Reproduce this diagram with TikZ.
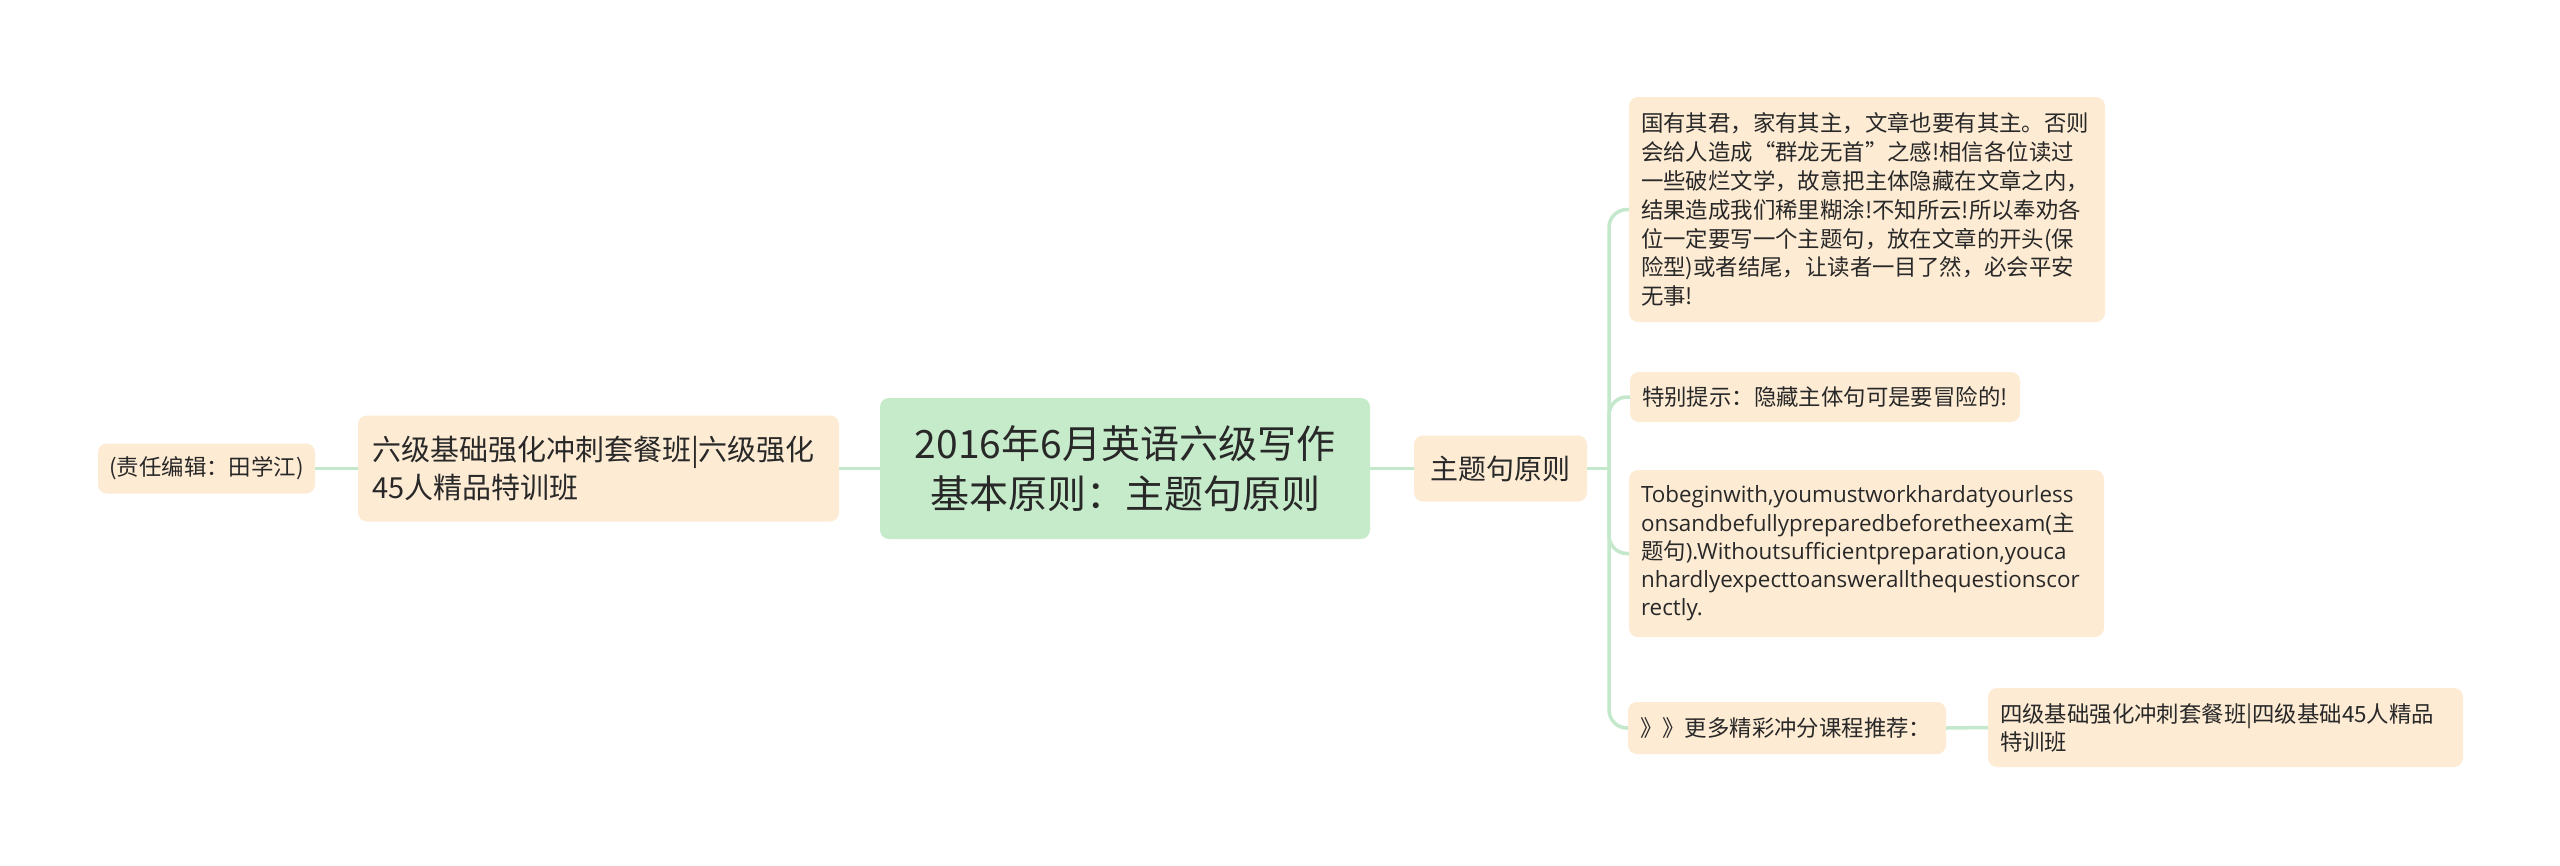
\documentclass[tikz,border=0pt]{standalone}
\usepackage{fontspec}
\setmainfont{Noto Sans CJK SC}
\newfontfamily\en{Open Sans}
\usetikzlibrary{backgrounds}
\definecolor{rootg}{RGB}{198,235,202}
\definecolor{peach}{RGB}{253,235,212}
\definecolor{lnk}{RGB}{196,232,204}
\definecolor{txt}{RGB}{40,40,40}
\begin{document}
\begin{tikzpicture}[x=1pt,y=-1pt,
  box/.style={rectangle, rounded corners=9pt, fill=peach, inner ysep=0pt, text=txt},
  small/.style={font=\fontsize{22.4}{28.9}\selectfont},
  link/.style={draw=lnk, line width=3.5pt, rounded corners=18pt}]
\useasboundingbox (0,0) rectangle (2560,865);

\node[box, fill=rootg, minimum width=490pt, minimum height=141pt, align=center,
  font=\fontsize{39}{50}\selectfont] (root) at (1125,468.5)
  {2016年6月英语六级写作\\基本原则：主题句原则};

\node[box, minimum width=173pt, minimum height=66pt, align=center,
  font=\fontsize{28}{36}\selectfont] (main) at (1500.5,468.5) {主题句原则};

\node[box, inner xsep=14pt, text width=453pt, minimum height=106pt, align=left,
  font=\fontsize{29}{38}\selectfont] (left) at (598.5,468.5)
  {六级基础强化冲刺套餐班|六级强化\\45人精品特训班};

\node[box, minimum width=217pt, minimum height=50pt, align=center, small] (editor) at (206.5,468.5)
  {(责任编辑：田学江)};

\node[box, small, inner xsep=12pt, text width=452pt, minimum height=225pt, align=left] (a) at (1867,209.5)
  {国有其君，家有其主，文章也要有其主。否则\\
   会给人造成“群龙无首”之感!相信各位读过\\
   一些破烂文学，故意把主体隐藏在文章之内，\\
   结果造成我们稀里糊涂!不知所云!所以奉劝各\\
   位一定要写一个主题句，放在文章的开头(保\\
   险型)或者结尾，让读者一目了然，必会平安\\
   无事!};

\node[box, small, inner xsep=12pt, text width=366pt, minimum height=50pt, align=left] (b) at (1825,397)
  {特别提示：隐藏主体句可是要冒险的!};

\node[box, font=\fontsize{22.4}{28.3}\selectfont, inner xsep=12pt, text width=451pt, minimum height=167pt, align=left] (c) at (1866.5,553.5)
  {{\en Tobeginwith,youmustworkhardatyourless}\\
   {\en onsandbefullypreparedbeforetheexam(}主\\
   题句{\en ).Withoutsufficientpreparation,youca}\\
   {\en nhardlyexpecttoanswerallthequestionscor}\\
   {\en rectly.}};

\node[box, small, inner xsep=12pt, text width=294pt, minimum height=52pt, align=left] (d) at (1787,728)
  {》》更多精彩冲分课程推荐：};

\node[box, font=\fontsize{22.4}{28}\selectfont, inner xsep=12pt, text width=451pt, minimum height=79pt, align=left] (e) at (2225.5,727.5)
  {四级基础强化冲刺套餐班|四级基础45人精品\\特训班};

\coordinate (trunk) at (1609,468.5);

\begin{pgfonlayer}{background}
  \fill[white] (0,0) rectangle (2560,865);
  \draw[link] (root.east) -- (main.west);
  \draw[link] (root.west) -- (left.east);
  \draw[link] (left.west) -- (editor.east);
  \draw[link] (main.east) -- (trunk);
  \draw[link] (trunk) |- (a.west);
  \draw[link] (trunk) |- (b.west);
  \draw[link] (trunk) |- (c.west);
  \draw[link] (trunk) |- (d.west);
  \draw[link] (d.east) -- (e.west);
\end{pgfonlayer}
\end{tikzpicture}
\end{document}
